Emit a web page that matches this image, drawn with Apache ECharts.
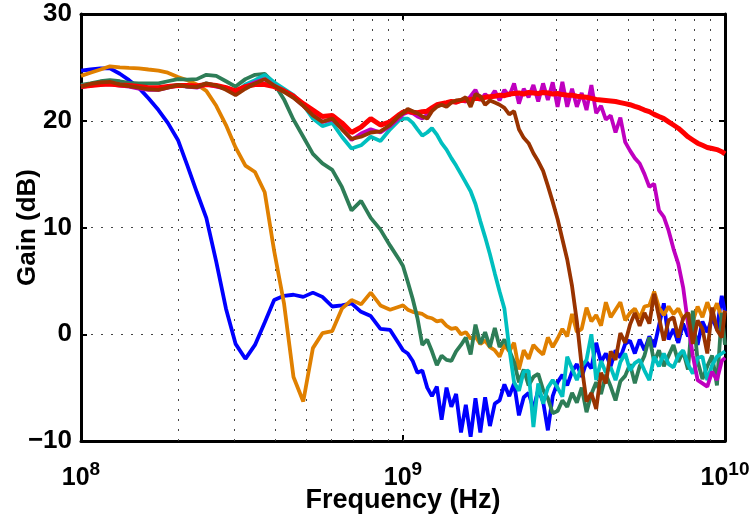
<!DOCTYPE html>
<html>
<head>
<meta charset="utf-8">
<script src="https://cdn.jsdelivr.net/npm/echarts@6/dist/echarts.min.js"></script>
<style>
  html, body { margin: 0; padding: 0; background: #fff; }
  #chart { width: 755px; height: 525px; }
</style>
</head>
<body>
<div id="chart"></div>
<script>
// frequency points in MHz (shared by every trace)
const freqMHz = [
  100, 107, 115, 123, 132, 141, 151, 162, 174, 186,
  200, 214, 229, 245, 263, 282, 302, 324, 347, 372,
  398, 427, 457, 490, 525, 562, 603, 646, 692, 741,
  794, 851, 912, 977,
  1000, 1035, 1072, 1109, 1148, 1189, 1230, 1274, 1318, 1365,
  1413, 1462, 1514, 1567, 1622, 1679, 1738, 1799, 1862, 1928,
  1995, 2065, 2138, 2213, 2291, 2371, 2455, 2541, 2630, 2723,
  2818, 2917, 3020, 3126, 3236, 3350, 3467, 3589, 3715, 3846,
  3981, 4121, 4266, 4416, 4571, 4732, 4898, 5070, 5248, 5433,
  5623, 5821, 6026, 6237, 6457, 6683, 6918, 7161, 7413, 7674,
  7943, 8222, 8511, 8810, 9120, 9441, 9772, 10000
];

// gain in dB, one array per trace
const gainBlue = [
  24.7, 24.8, 24.9, 24.9, 24.4, 23.8, 23.1, 22.1, 21.0, 19.8,
  18.2, 15.8, 13.3, 10.9, 6.8, 2.4, -0.9, -2.3, -1.0, 1.1,
  3.2, 3.6, 3.7, 3.5, 3.9, 3.5, 2.6, 2.7, 2.9, 2.1,
  1.7, 0.5, 0.4, -1.0,
  -1.5, -1.8, -2.5, -3.6, -3.4, -5.0, -5.8, -4.9, -8.0, -5.0,
  -6.8, -5.6, -9.2, -6.6, -9.6, -6.0, -9.2, -5.9, -8.6, -6.5,
  -6.2, -4.7, -5.8, -4.6, -7.6, -5.9, -5.5, -7.0, -5.2, -6.3,
  -9.0, -5.8, -4.5, -3.8, -4.8, -3.5, -2.8, -4.0, -2.6, -3.2,
  -0.8, -2.6, -1.8, -3.0, -1.5, -2.2, -0.9, -0.6, -1.8, -0.5,
  -1.5, -0.2, -1.2, 0.8, 2.9, -0.5, 0.5, -0.8, 1.0, -0.2,
  0.8, -1.0, 1.2, 0.2, 1.5, 0.5, 3.6, 2.0
];
const gainOrange = [
  24.2, 24.5, 24.8, 25.1, 25.0, 24.95, 24.9, 24.8, 24.7, 24.5,
  24.1, 23.8, 23.4, 22.8, 21.4, 19.6, 17.5, 15.8, 15.2, 13.3,
  7.8, 2.9, -4.0, -6.3, -1.3, 0.1, 0.3, 2.4, 3.2, 2.8,
  3.9, 2.7, 2.3, 2.6,
  2.7, 2.3, 2.1, 2.0, 1.9, 1.6, 1.5, 1.2, 1.3, 0.8,
  0.5, 0.6, 0.0, 0.2, -0.4, -0.2, -0.9, -0.6, -1.2, -1.5,
  -2.1, -1.0, -1.6, -0.8, -3.3, -1.5, -2.3, -1.0, -1.5, -1.9,
  -0.3, -1.2, -0.4, 0.5, -0.2, 1.9, 0.2, 0.5, 2.5, 1.2,
  1.8, 0.8, 3.0, 1.6, 2.3, 3.0, 1.3, 2.0, 2.4, 1.5,
  2.6, 2.7, 4.0, 2.5, 1.8, 2.6, 1.9, 2.4, 1.4, 2.0,
  1.2, 2.6, 1.6, 3.0, 1.8, 2.9, 1.5, 2.2
];
const gainGreen = [
  23.35, 23.5, 23.7, 23.8, 23.7, 23.55, 23.5, 23.5, 23.5, 23.7,
  23.9, 23.85, 23.9, 24.3, 24.2, 23.7, 23.2, 23.9, 24.3, 24.4,
  23.5, 22.0, 20.1, 18.5, 16.9, 16.0, 15.4, 13.8, 11.6, 12.5,
  10.9, 9.8, 8.3, 6.9,
  6.4, 4.9, 3.3, 1.5, -1.0, -0.5, -1.6, -2.9, -2.0, -2.4,
  -2.5, -1.6, -1.0, -0.3, -1.9, 0.9, -0.9, 0.2, -1.2, 0.6,
  -1.2, -0.5, -1.5, -2.6, -4.5, -3.3, -4.8, -4.0, -3.7, -5.2,
  -6.0, -7.4, -7.2, -6.2, -6.8, -5.5, -6.4, -5.0, -7.3, -5.6,
  -4.5, -5.6, -3.8, -4.9, -6.2, -4.4, -3.9, -2.8, -4.6, -3.0,
  -2.0, -0.3, -2.6, -1.5, -3.0, -2.0, -1.0, -2.6, -1.6, -3.3,
  2.2, -2.5, -4.2, -3.0, -2.0, -4.8, 2.0, -1.0
];
const gainCyan = [
  23.3, 23.4, 23.5, 23.6, 23.4, 23.3, 23.1, 23.0, 22.95, 23.2,
  23.35, 23.2, 23.2, 23.5, 23.3, 23.0, 22.6, 23.4, 23.8, 24.3,
  23.6, 23.0, 22.4, 21.5, 20.2, 19.5, 19.8, 18.5, 17.4, 17.7,
  18.5, 18.1, 19.2, 20.1,
  20.2, 20.2, 19.8, 19.2, 18.6, 18.9, 19.3, 18.7, 17.9, 17.3,
  16.5, 15.8, 15.0, 14.2, 13.4, 12.2, 10.6, 9.1, 7.5, 5.7,
  4.0, 2.4, -1.3, -4.5, -5.3, -3.5, -3.4, -8.7, -4.6, -6.5,
  -5.0, -4.3, -5.0, -5.85, -2.1, -3.2, -4.3, -3.0, -2.4, 0.0,
  -4.3, -2.5, -3.6, -3.1, -4.3, -2.6, -1.8, -3.4, -2.7, -2.4,
  -3.4, -4.3, -2.1, -3.0, -1.8, -2.8, -3.1, -2.0, -1.5, -2.8,
  -3.7, -2.2, -2.1, -4.3, -2.9, -2.1, -1.8, -1.6
];
const gainMagenta = [
  23.15, 23.3, 23.4, 23.4, 23.3, 23.2, 23.0, 22.9, 22.9, 23.1,
  23.3, 23.2, 23.1, 23.4, 23.2, 23.0, 22.5, 23.2, 23.6, 23.9,
  23.3, 22.8, 22.2, 21.4, 20.6, 19.9, 20.1, 19.3, 18.2, 18.8,
  19.2, 18.9, 19.5, 20.3,
  20.6, 20.8, 20.7, 20.4, 20.2, 20.6, 21.1, 21.4, 21.5, 21.6,
  21.8, 21.7, 21.9, 21.8, 22.3, 22.9, 21.9, 22.5, 22.1, 22.8,
  21.9, 22.9, 22.3, 23.5, 21.6, 23.0, 22.2, 23.35, 21.8, 23.5,
  21.95, 23.6, 21.3, 23.65, 21.3, 23.0, 21.3, 22.6, 21.0, 23.35,
  20.7, 21.4, 20.1, 20.5, 18.9, 20.3, 18.0, 17.2, 16.5, 16.0,
  15.0, 13.8, 14.1, 11.6, 11.0, 9.7, 8.0, 6.6, 4.4, 1.0,
  -2.0, -4.3, -4.6, -4.9, -3.5, -4.3, -2.5, -2.2
];
const gainRed = [
  23.2, 23.3, 23.4, 23.45, 23.35, 23.3, 23.2, 23.1, 23.1, 23.2,
  23.3, 23.3, 23.25, 23.4, 23.3, 23.1, 22.8, 23.2, 23.4, 23.4,
  23.2, 22.8, 22.3, 21.6, 21.0, 20.4, 20.5, 19.8, 18.9, 19.4,
  20.2, 19.6, 19.9, 20.6,
  20.8, 20.9, 20.8, 20.75, 20.85, 20.9, 21.2, 21.5, 21.6, 21.7,
  21.8, 21.75, 21.9, 21.95, 22.0, 22.1, 22.05, 22.2, 22.25, 22.3,
  22.4, 22.35, 22.5, 22.55, 22.6, 22.5, 22.65, 22.6, 22.55, 22.65,
  22.6, 22.5, 22.55, 22.45, 22.4, 22.4, 22.3, 22.25, 22.2, 22.1,
  22.0, 21.95, 21.9, 21.85, 21.8, 21.7, 21.6, 21.5, 21.35, 21.2,
  21.0, 20.85, 20.6, 20.4, 20.2, 19.9, 19.6, 19.3, 18.9, 18.5,
  18.2, 17.9, 17.7, 17.5, 17.4, 17.3, 17.1, 16.9
];
const gainBrown = [
  23.2, 23.45, 23.6, 23.65, 23.4, 23.25, 23.1, 22.95, 22.9, 23.1,
  23.35, 23.2, 23.15, 23.5, 23.3, 22.9, 22.4, 23.0, 23.5, 23.9,
  23.3, 22.7, 22.15, 21.4, 20.5, 19.9, 20.2, 19.2, 18.3, 18.5,
  18.9, 19.0, 19.6, 20.5,
  20.7, 21.1, 20.9, 20.7, 20.4, 20.2, 20.9, 21.3, 21.5, 21.3,
  21.7, 21.9, 21.95, 22.2, 21.3, 22.5, 22.3, 21.5, 21.9, 21.7,
  21.5, 21.2, 20.6, 20.9, 19.2, 18.4, 17.9, 16.95, 16.2, 15.3,
  13.9, 12.4, 10.8, 8.9, 7.0, 4.5, 1.2, -3.0, -6.3, -5.5,
  -7.0, -3.6, -4.6, -1.6, -2.4, 0.1, -0.8, 0.9, 2.0, 0.8,
  2.0, 1.0, 3.8, 1.6, -0.6, 1.3, 1.6, -0.3, 1.5, 2.0,
  -0.9, 1.3, 0.5, -1.8, 2.5, 0.4, -0.3, 2.2
];

// dotted grid positions (MHz) and axis ticks
const gridFreqMHz = [200, 300, 400, 500, 600, 700, 800, 900, 1000,
  2000, 3000, 4000, 5000, 6000, 7000, 8000, 9000];
const yMin = -10, yMax = 30, yStep = 10;

const traces = [
  { name: 'blue', color: '#0000ff', gain: gainBlue },
  { name: 'orange', color: '#e08000', gain: gainOrange },
  { name: 'green', color: '#2e7d57', gain: gainGreen },
  { name: 'cyan', color: '#00bfbf', gain: gainCyan },
  { name: 'magenta', color: '#bf00bf', gain: gainMagenta },
  { name: 'red', color: '#ff0000', gain: gainRed },
  { name: 'brown', color: '#993300', gain: gainBrown }
];

const FONT = 'Liberation Sans';
const frameLine = { show: true, onZero: false, lineStyle: { color: '#000', width: 3 } };
const innerTick = { show: true, inside: true, length: 6, lineStyle: { color: '#000', width: 2 } };
const dotted = { color: '#444', width: 1, type: [2, 8] };

const chart = echarts.init(document.getElementById('chart'), null, { renderer: 'canvas' });

const series = traces.map(t => ({
  name: t.name,
  type: 'line',
  data: freqMHz.map((f, i) => [f * 1e6, t.gain[i]]),
  showSymbol: false,
  lineStyle: { color: t.color, width: t.name === 'red' ? 5 : 3.8 },
  itemStyle: { color: t.color },
  z: 3
}));

// vertical dotted grid lines at the log minor positions
series.unshift({
  type: 'line',
  data: [],
  silent: true,
  z: 1,
  markLine: {
    silent: true,
    z: 1,
    symbol: ['none', 'none'],
    label: { show: false },
    lineStyle: dotted,
    emphasis: { disabled: true },
    data: gridFreqMHz.map(f => ({ xAxis: f * 1e6 }))
  }
});

const option = {
  animation: false,
  backgroundColor: '#fff',
  grid: { left: 81, right: 30, top: 14, bottom: 84, outerBoundsMode: 'none', containLabel: false },
  xAxis: [
    {
      type: 'log',
      logBase: 10,
      min: 1e8,
      max: 1e10,
      position: 'bottom',
      axisLine: frameLine,
      axisTick: innerTick,
      splitLine: { show: false },
      axisLabel: {
        margin: 19,
        formatter: v => '{b|10}{s|' + Math.round(Math.log10(v)) + '}',
        rich: {
          b: { fontFamily: FONT, fontWeight: 'bold', fontSize: 25, color: '#000' },
          s: { fontFamily: FONT, fontWeight: 'bold', fontSize: 19, color: '#000', padding: [0, 0, 18, 0] }
        }
      },
      name: 'Frequency (Hz)',
      nameLocation: 'middle',
      nameGap: 46,
      nameMoveOverlap: false,
      nameTextStyle: { fontFamily: FONT, fontWeight: 'bold', fontSize: 27, color: '#000' }
    },
    {
      type: 'log',
      logBase: 10,
      min: 1e8,
      max: 1e10,
      position: 'top',
      axisLine: frameLine,
      axisTick: innerTick,
      axisLabel: { show: false },
      splitLine: { show: false }
    }
  ],
  yAxis: [
    {
      type: 'value',
      min: yMin,
      max: yMax,
      interval: yStep,
      position: 'left',
      axisLine: frameLine,
      axisTick: innerTick,
      splitLine: { show: true, lineStyle: dotted },
      axisLabel: {
        margin: 9,
        fontFamily: FONT,
        fontWeight: 'bold',
        fontSize: 26,
        color: '#000',
        formatter: v => (v < 0 ? '\u2212' + Math.abs(v) : String(v))
      },
      name: 'Gain (dB)',
      nameLocation: 'middle',
      nameRotate: 90,
      nameGap: 40,
      nameMoveOverlap: false,
      nameTextStyle: { fontFamily: FONT, fontWeight: 'bold', fontSize: 26, color: '#000' }
    },
    {
      type: 'value',
      min: yMin,
      max: yMax,
      interval: yStep,
      position: 'right',
      axisLine: frameLine,
      axisTick: innerTick,
      axisLabel: { show: false },
      splitLine: { show: false }
    }
  ],
  series: series
};

chart.setOption(option);
</script>
</body>
</html>
